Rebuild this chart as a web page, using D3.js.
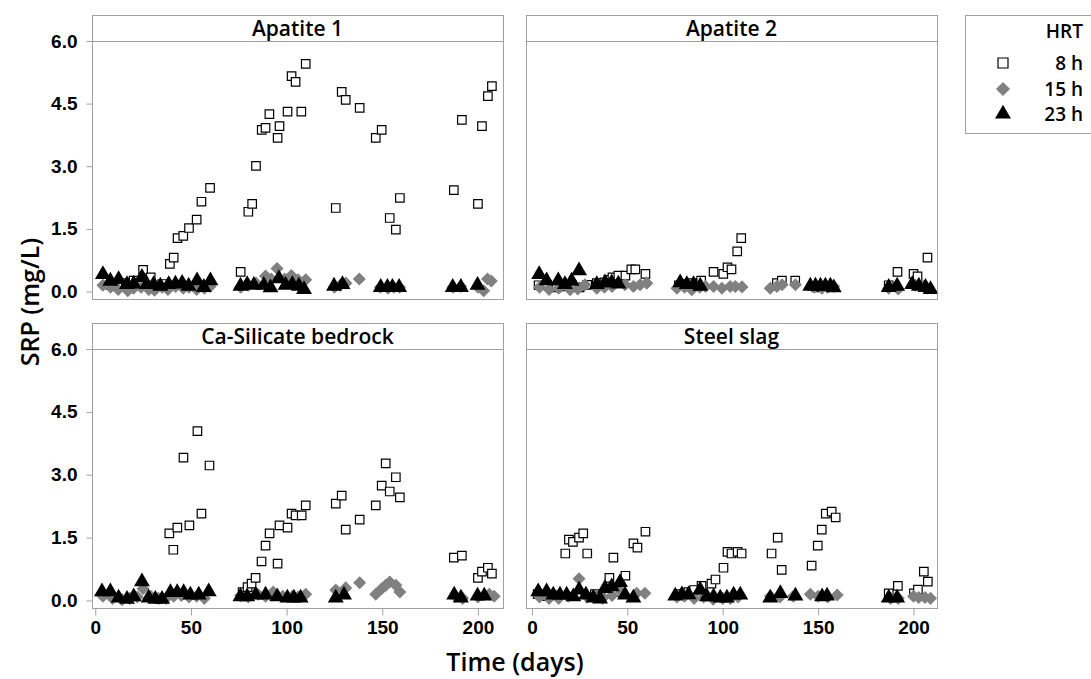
<!DOCTYPE html>
<html>
<head>
<meta charset="utf-8">
<title>SRP (mg/L) by time and HRT</title>
<script src="https://cdn.jsdelivr.net/npm/d3@7/dist/d3.min.js"></script>
<style>
  body { margin: 0; background: #fff; }
  svg { font-family: "Open Sans", sans-serif; }
  .tick line { stroke: #a0a0a0; }
  .tick text { font-size: 19px; font-weight: 600; fill: #000; }
  .frame { fill: none; stroke: #a0a0a0; stroke-width: 1; }
  .strip { fill: #fff; stroke: #a0a0a0; stroke-width: 1; }
  .strip-label { font-size: 21px; font-weight: 600; fill: #000; }
  .axis-title { font-size: 25px; font-weight: 600; fill: #000; }
  .legend text { font-size: 19px; font-weight: 600; fill: #000; }
</style>
</head>
<body>
<svg></svg>
<script>

// panel names, series names, axis ticks
var panelNames = ["Apatite 1", "Apatite 2", "Ca-Silicate bedrock", "Steel slag"];
var seriesNames = ["8 h", "15 h", "23 h"];
var yTicks = [0, 1.5, 3, 4.5, 6];
var xTicks = [0, 50, 100, 150, 200];

// [day, SRP mg/L]
var a1_8h = [[8,0.15],[13,0.12],[16,0.2],[20,0.26],[25,0.52],[29,0.34],[35,0.18],[39,0.66],[41,0.81],[43,1.28],[46,1.33],[49,1.52],[53,1.72],[55.5,2.15],[60,2.48],[76,0.47],[80,1.91],[82,2.1],[84,3.01],[87,3.87],[89,3.92],[91,4.25],[95.3,3.68],[96.3,3.96],[100.5,4.31],[102.6,5.16],[104.7,5.02],[107.7,4.31],[110,5.45],[125.7,2.0],[128.8,4.78],[130.9,4.59],[138.2,4.4],[146.6,3.68],[149.7,3.87],[153.9,1.76],[157.1,1.48],[159.2,2.24],[187.4,2.43],[191.6,4.11],[200,2.1],[202.1,3.96],[205.2,4.68],[207.3,4.92]];
var a1_15h = [[4,0.15],[8,0.1],[12,0.05],[17,0.02],[20,0.08],[24,0.1],[28,0.05],[31,0.03],[35,0.1],[38,0.05],[42,0.12],[46,0.08],[49,0.1],[53,0.05],[57,0.08],[60,0.12],[76,0.1],[80,0.15],[84,0.2],[89,0.37],[92,0.3],[95,0.55],[99,0.3],[102.5,0.38],[106,0.28],[110,0.28],[125,0.1],[128,0.15],[131,0.2],[138,0.3],[149,0.1],[153,0.08],[156,0.1],[159,0.1],[187,0.1],[191,0.12],[200,0.1],[203,0.02],[205,0.3],[207,0.25]];
var a1_23h = [[4,0.41],[7.9,0.25],[12.2,0.29],[16.6,0.17],[20.1,0.18],[24.4,0.34],[27,0.17],[30.5,0.17],[34,0.13],[38.4,0.17],[41.9,0.18],[45.4,0.2],[48.8,0.13],[53.2,0.26],[56.7,0.1],[60.2,0.26],[75.9,0.13],[79.4,0.17],[82.9,0.15],[88.1,0.15],[91.6,0.09],[96,0.31],[99.5,0.15],[103,0.17],[106.4,0.13],[109.1,0.05],[124.8,0.13],[129.2,0.17],[149.2,0.1],[152.7,0.1],[155.3,0.1],[158.8,0.1],[186.8,0.1],[191.1,0.1],[199.8,0.15]];

var a2_8h = [[3.5,0.15],[8,0.15],[13,0.1],[17,0.12],[21,0.15],[25,0.1],[29,0.16],[34,0.2],[38,0.22],[40.1,0.28],[42.2,0.34],[45.3,0.38],[49,0.38],[52.1,0.53],[54.2,0.53],[59.5,0.42],[77,0.15],[81,0.18],[84,0.2],[88.7,0.26],[95.2,0.47],[100.3,0.42],[102.5,0.58],[104.6,0.53],[107.6,0.96],[109.7,1.28],[128.4,0.2],[131,0.26],[138,0.26],[149,0.1],[153,0.12],[187,0.15],[191.6,0.47],[200,0.42],[202.1,0.36],[207.3,0.81]];
var a2_15h = [[4,0.1],[9,0.05],[14,0.08],[20,0.04],[24,0.06],[27.8,0.16],[34,0.08],[38,0.1],[42,0.12],[48.8,0.16],[53.2,0.12],[56.7,0.16],[60.2,0.2],[76,0.08],[80,0.1],[83.8,0.04],[88,0.1],[91,0.12],[95.2,0.12],[99.6,0.08],[103.9,0.12],[106.6,0.12],[110.1,0.11],[124.9,0.08],[128.4,0.12],[131.1,0.16],[138.1,0.16],[148,0.1],[152,0.08],[155,0.1],[158.2,0.12],[187,0.08],[192,0.06],[201,0.15],[204.6,0.15],[207,0.08]];
var a2_23h = [[3.8,0.41],[7.7,0.26],[13.8,0.26],[17.3,0.17],[20.8,0.25],[24.7,0.5],[34,0.17],[38.3,0.21],[41.8,0.21],[45.3,0.18],[77.7,0.21],[81.2,0.17],[84.7,0.17],[88.2,0.13],[145.9,0.13],[148.6,0.13],[151.2,0.13],[153.8,0.13],[156.4,0.13],[158.2,0.09],[187,0.1],[191.4,0.13],[199.3,0.17],[202.8,0.13],[206.3,0.1],[208.9,0.05]];

var cs_8h = [[38.7,1.6],[40.8,1.21],[42.9,1.74],[46.1,3.41],[49.2,1.79],[53.4,4.04],[55.5,2.07],[59.7,3.22],[77,0.2],[79.6,0.32],[81.7,0.4],[83.8,0.54],[86.9,0.93],[89,1.31],[91.1,1.6],[95.3,0.88],[96.3,1.79],[100.5,1.74],[102.6,2.07],[104.7,2.03],[107.9,2.03],[110,2.27],[125.7,2.31],[128.8,2.5],[130.9,1.69],[138.2,1.93],[146.6,2.27],[149.7,2.74],[151.8,3.27],[153.9,2.6],[157.1,2.94],[159.2,2.46],[187.4,1.02],[191.6,1.07],[200,0.54],[202.1,0.69],[205.2,0.78],[207.3,0.64]];
var cs_15h = [[4,0.1],[9,0.05],[14,0.02],[18,0.05],[22,0.08],[25,0.28],[29,0.1],[33,0.05],[37,0.05],[41,0.1],[45,0.12],[49,0.08],[53,0.1],[57,0.05],[76,0.12],[80,0.08],[85,0.15],[89,0.1],[93,0.2],[98,0.1],[103,0.1],[106,0.08],[110,0.15],[125.7,0.25],[130.9,0.3],[138.2,0.42],[146.6,0.15],[149.7,0.28],[151.8,0.36],[153.9,0.44],[157.1,0.36],[159.2,0.2],[188,0.1],[192,0.05],[200,0.08],[205.9,0.15],[208.5,0.1]];
var cs_23h = [[3.5,0.21],[7.9,0.21],[12.2,0.06],[16.6,0.03],[20.1,0.09],[24.4,0.45],[27.9,0.06],[31.4,0.03],[34.9,0.03],[39.3,0.19],[42.8,0.19],[46.2,0.19],[49.7,0.13],[54.1,0.13],[59.3,0.21],[75.9,0.09],[79.4,0.09],[83.8,0.13],[89,0.13],[95.1,0.09],[100.4,0.06],[103.8,0.06],[107.3,0.06],[125.7,0.06],[130,0.13],[187.6,0.13],[191.1,0.06],[199.8,0.11],[203.3,0.11]];

var ss_8h = [[3,0.15],[8,0.1],[13,0.12],[17.5,1.12],[19.4,1.45],[21.5,1.4],[24.7,1.5],[26.9,1.6],[29,1.12],[33,0.15],[36,0.1],[40.6,0.54],[42.7,1.02],[45,0.2],[49,0.59],[53.2,1.36],[55.3,1.26],[59.5,1.64],[77,0.15],[82,0.2],[85,0.25],[88.9,0.35],[94.1,0.4],[96.2,0.5],[100.4,0.78],[102.5,1.16],[104.6,1.12],[107.8,1.16],[109.9,1.12],[125.6,1.12],[128.8,1.5],[130.9,0.73],[146.6,0.83],[149.8,1.31],[151.9,1.69],[154,2.07],[157.1,2.12],[159.2,1.98],[187,0.17],[191.8,0.35],[200.2,0.17],[202.3,0.26],[205.4,0.69],[207.5,0.45]];
var ss_15h = [[4,0.08],[9,0.05],[14,0.05],[19,0.1],[24.7,0.52],[29,0.08],[33,0.1],[37,0.05],[42,0.12],[47,0.2],[54.9,0.17],[59.2,0.17],[76,0.08],[80,0.1],[85,0.05],[90,0.08],[95,0.03],[100,0.05],[104,0.05],[108,0.08],[125,0.1],[130,0.08],[137,0.1],[145.9,0.15],[150,0.1],[155,0.08],[160,0.13],[188,0.05],[192,0.05],[200,0.1],[202.7,0.07],[206,0.07],[208.9,0.05]];
var ss_23h = [[3.3,0.21],[7.7,0.21],[11.2,0.13],[14.7,0.13],[18.2,0.13],[21.7,0.09],[24.7,0.25],[28.3,0.13],[32.2,0.06],[35.7,0.04],[38.3,0.29],[41.8,0.33],[46.2,0.43],[48.8,0.13],[53.2,0.06],[75.1,0.11],[78.6,0.14],[82.1,0.14],[88.2,0.25],[91.7,0.09],[95.2,0.09],[98.7,0.06],[102.2,0.06],[105.7,0.13],[109.2,0.13],[124.9,0.06],[130.2,0.17],[138.1,0.11],[152.1,0.09],[154.7,0.11],[187,0.06],[191.4,0.06]];

var panelData = [
  [a1_8h, a1_15h, a1_23h],
  [a2_8h, a2_15h, a2_23h],
  [cs_8h, cs_15h, cs_23h],
  [ss_8h, ss_15h, ss_23h]
];

var config = {
  width: 1091,
  height: 679,
  cols: [[92, 503], [526, 937]],
  xDomains: [[-1.7, 213.1], [-3.1, 212.3]],
  rows: [{ strip: 15, top: 41, bottom: 299 }, { strip: 323, top: 349, bottom: 608 }],
  yDomain: [-0.18, 6.0],
  frame: "#a0a0a0",
  gray: "#808080"
};

// marker styles: hollow square, gray diamond, black triangle
var markers = [
  { type: d3.symbolSquare, size: 72, fill: "#fff", stroke: "#000", rotate: 0 },
  { type: d3.symbolSquare, size: 85, fill: config.gray, stroke: "none", rotate: 45 },
  { type: d3.symbolTriangle, size: 110, fill: "#000", stroke: "none", rotate: 0 }
];

var svg = d3.select("svg")
  .attr("width", config.width)
  .attr("height", config.height);

panelNames.forEach(function(name, i) {
  var col = i % 2,
      row = Math.floor(i / 2),
      r = config.rows[row],
      x0 = config.cols[col][0],
      x1 = config.cols[col][1];

  var x = d3.scaleLinear().domain(config.xDomains[col]).range([x0, x1]);
  var y = d3.scaleLinear().domain(config.yDomain).range([r.bottom, r.top]);

  var g = svg.append("g").attr("class", "panel");

  // strip header
  g.append("rect")
    .attr("class", "strip")
    .attr("x", x0 + 0.5).attr("y", r.strip + 0.5)
    .attr("width", x1 - x0).attr("height", r.top - r.strip);
  g.append("text")
    .attr("class", "strip-label")
    .attr("x", (x0 + x1) / 2).attr("y", (r.strip + r.top) / 2 + 1)
    .attr("dy", "0.35em")
    .attr("text-anchor", "middle")
    .text(name);

  if (col === 0) {
    g.append("g")
      .attr("transform", `translate(${x0 + 0.5},0)`)
      .call(d3.axisLeft(y).tickValues(yTicks).tickSize(6).tickPadding(9).tickFormat(d3.format(".1f")))
      .call(function(a) { a.select(".domain").remove(); });
  }
  if (row === 1) {
    g.append("g")
      .attr("transform", `translate(0,${r.bottom + 0.5})`)
      .call(d3.axisBottom(x).tickValues(xTicks).tickSize(7).tickPadding(5))
      .call(function(a) { a.select(".domain").remove(); });
  }

  // points: 8 h first, then 15 h, 23 h on top
  panelData[i].forEach(function(series, k) {
    var m = markers[k];
    g.append("g")
      .selectAll("path")
      .data(series)
      .join("path")
        .attr("d", d3.symbol().type(m.type).size(m.size))
        .attr("transform", function(d) {
          return `translate(${x(d[0])},${y(d[1])})` + (m.rotate ? ` rotate(${m.rotate})` : "");
        })
        .attr("fill", m.fill)
        .attr("stroke", m.stroke)
        .attr("stroke-width", 1.2);
  });

  g.append("rect")
    .attr("class", "frame")
    .attr("x", x0 + 0.5).attr("y", r.top + 0.5)
    .attr("width", x1 - x0).attr("height", r.bottom - r.top);
});

// axis titles
svg.append("text")
  .attr("class", "axis-title")
  .attr("transform", "translate(30,302) rotate(-90)")
  .attr("dy", "0.35em")
  .attr("text-anchor", "middle")
  .text("SRP (mg/L)");

svg.append("text")
  .attr("class", "axis-title")
  .attr("x", 515).attr("y", 662)
  .attr("dy", "0.35em")
  .attr("text-anchor", "middle")
  .text("Time (days)");

// legend
var legend = svg.append("g").attr("class", "legend");
legend.append("rect")
  .attr("x", 965.5).attr("y", 15.5)
  .attr("width", 140).attr("height", 118)
  .attr("fill", "#fff").attr("stroke", config.frame);
legend.append("text")
  .attr("x", 1083).attr("y", 38)
  .attr("text-anchor", "end")
  .text("HRT");

var legendMarkers = [
  { type: d3.symbolSquare, size: 100, fill: "#fff", stroke: "#000", rotate: 0 },
  { type: d3.symbolSquare, size: 100, fill: config.gray, stroke: "none", rotate: 45 },
  { type: d3.symbolTriangle, size: 110, fill: "#000", stroke: "none", rotate: 0 }
];
var legendY = [63, 89, 114];

seriesNames.forEach(function(s, k) {
  var m = legendMarkers[k];
  legend.append("path")
    .attr("d", d3.symbol().type(m.type).size(m.size))
    .attr("transform", `translate(1003,${legendY[k]})` + (m.rotate ? ` rotate(${m.rotate})` : ""))
    .attr("fill", m.fill)
    .attr("stroke", m.stroke)
    .attr("stroke-width", 1.2);
  legend.append("text")
    .attr("x", 1083).attr("y", legendY[k])
    .attr("dy", "0.35em")
    .attr("text-anchor", "end")
    .text(s);
});

</script>
</body>
</html>
